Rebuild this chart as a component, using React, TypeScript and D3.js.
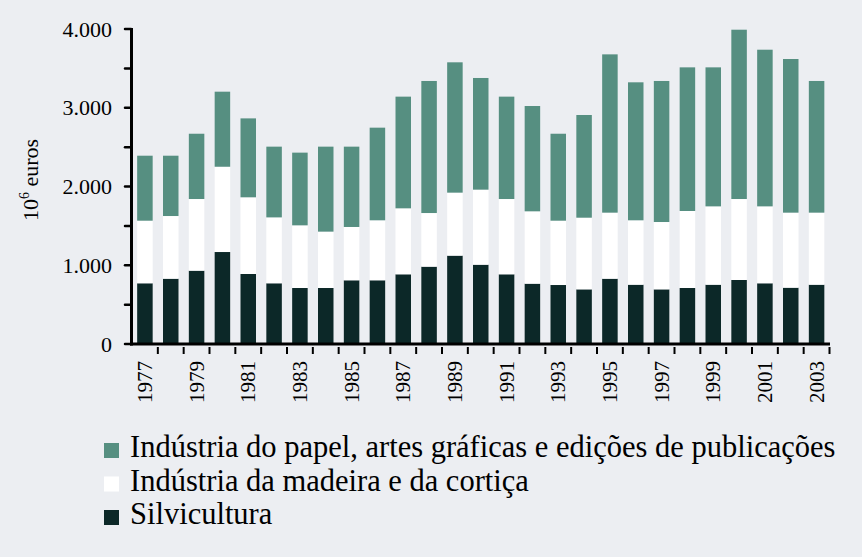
import React from "react";
import * as d3 from "d3";

const years = [1977,1978,1979,1980,1981,1982,1983,1984,1985,1986,1987,1988,1989,1990,1991,1992,1993,1994,1995,1996,1997,1998,1999,2000,2001,2002,2003];
const silvicultura = [771,829,931,1168,889,771,711,711,809,809,885,982,1122,1007,885,766,749,694,829,753,694,711,753,813,771,715,753];
const madeira = [795,796,910,1083,974,837,796,716,677,762,838,681,800,953,956,919,817,910,839,818,855,978,995,1028,977,953,915];
const papel = [825,766,829,953,1002,898,923,1079,1020,1176,1418,1677,1655,1418,1300,1337,1104,1304,2010,1752,1791,1824,1765,2150,1989,1951,1672];
const yTicks = [0, 1000, 2000, 3000, 4000];
const yMinorTicks = [500, 1500, 2500, 3500];
const seriesKeys = ["silvicultura", "madeira", "papel"];
const seriesLabels: Record<string, string> = {
  papel: "Indústria do papel, artes gráficas e edições de publicações",
  madeira: "Indústria da madeira e da cortiça",
  silvicultura: "Silvicultura",
};
const legendOrder = ["papel", "madeira", "silvicultura"];
const colors: Record<string, string> = {
  silvicultura: "#0c2828",
  madeira: "#ffffff",
  papel: "#568f81",
};

const W = 862;
const H = 557;
const BG = "#eceef2";
const fmt = (v: number) => (v === 0 ? "0" : d3.format(",")(v).replace(/,/g, "."));

export default function App() {
  const table = years.map((y, i) => ({
    year: String(y),
    silvicultura: silvicultura[i],
    madeira: madeira[i],
    papel: papel[i],
  }));
  const stack = d3.stack<any>().keys(seriesKeys)(table);

  const x = d3
    .scaleBand<string>()
    .domain(years.map(String))
    .range([132, 829.5])
    .paddingInner(0.4)
    .paddingOuter(0.2);
  const y = d3.scaleLinear().domain([0, 4000]).range([344, 29]);
  const step = x.step();
  const x0 = x.range()[0];

  const serif = "'Liberation Serif', 'Times New Roman', serif";

  return (
    <svg
      width={W}
      height={H}
      style={{ position: "absolute", left: 0, top: 0, display: "block", background: BG }}
    >
      <rect x={0} y={0} width={W} height={H} fill={BG} />
      {stack.map((s) => (
        <g key={s.key} fill={colors[s.key]}>
          {s.map((d, i) => (
            <rect
              key={i}
              x={x(String(years[i]))}
              y={y(d[1])}
              width={x.bandwidth()}
              height={y(d[0]) - y(d[1])}
            />
          ))}
        </g>
      ))}
      {/* y axis */}
      <line x1={131.5} x2={131.5} y1={y(4000) - 1} y2={y(0) + 1.5} stroke="#000" strokeWidth={3} />
      {[...yTicks, ...yMinorTicks].map((v) => (
        <line key={v} x1={125} x2={131} y1={y(v)} y2={y(v)} stroke="#000" strokeWidth={2.5} strokeLinecap="round" />
      ))}
      {yTicks.map((v) => (
        <text
          key={v}
          x={112}
          y={y(v)}
          textAnchor="end"
          dominantBaseline="central"
          fontFamily={serif}
          fontSize={22}
          fill="#000"
        >
          {fmt(v)}
        </text>
      ))}
      {/* x axis */}
      <line x1={130} x2={830} y1={y(0)} y2={y(0)} stroke="#000" strokeWidth={3} />
      {years.map((yr, i) => {
        const tx = x0 + (i + 1) * step;
        return <line key={yr} x1={tx} x2={tx} y1={347} y2={354} stroke="#000" strokeWidth={2} />;
      })}
      {years.map((yr, i) =>
        i % 2 === 0 ? (
          <text
            key={yr}
            transform={`translate(${(x(String(yr)) as number) + x.bandwidth() / 2},361) rotate(-90)`}
            textAnchor="end"
            dominantBaseline="central"
            fontFamily={serif}
            fontSize={21}
            fill="#000"
          >
            {yr}
          </text>
        ) : null
      )}
      {/* y label */}
      <text
        transform="translate(38,180) rotate(-90)"
        textAnchor="middle"
        fontFamily={serif}
        fontSize={22}
        fill="#000"
      >
        10<tspan fontSize={14} dy={-9}>6</tspan>
        <tspan dy={9}> euros</tspan>
      </text>
      {/* legend */}
      {legendOrder.map((k, i) => {
        const base = 457 + i * 33.5;
        return (
          <g key={k}>
            <rect x={104} y={base - 14} width={15} height={15} fill={colors[k]} />
            <text x={130} y={base} fontFamily={serif} fontSize={30.5} fill="#000">
              {seriesLabels[k]}
            </text>
          </g>
        );
      })}
    </svg>
  );
}
